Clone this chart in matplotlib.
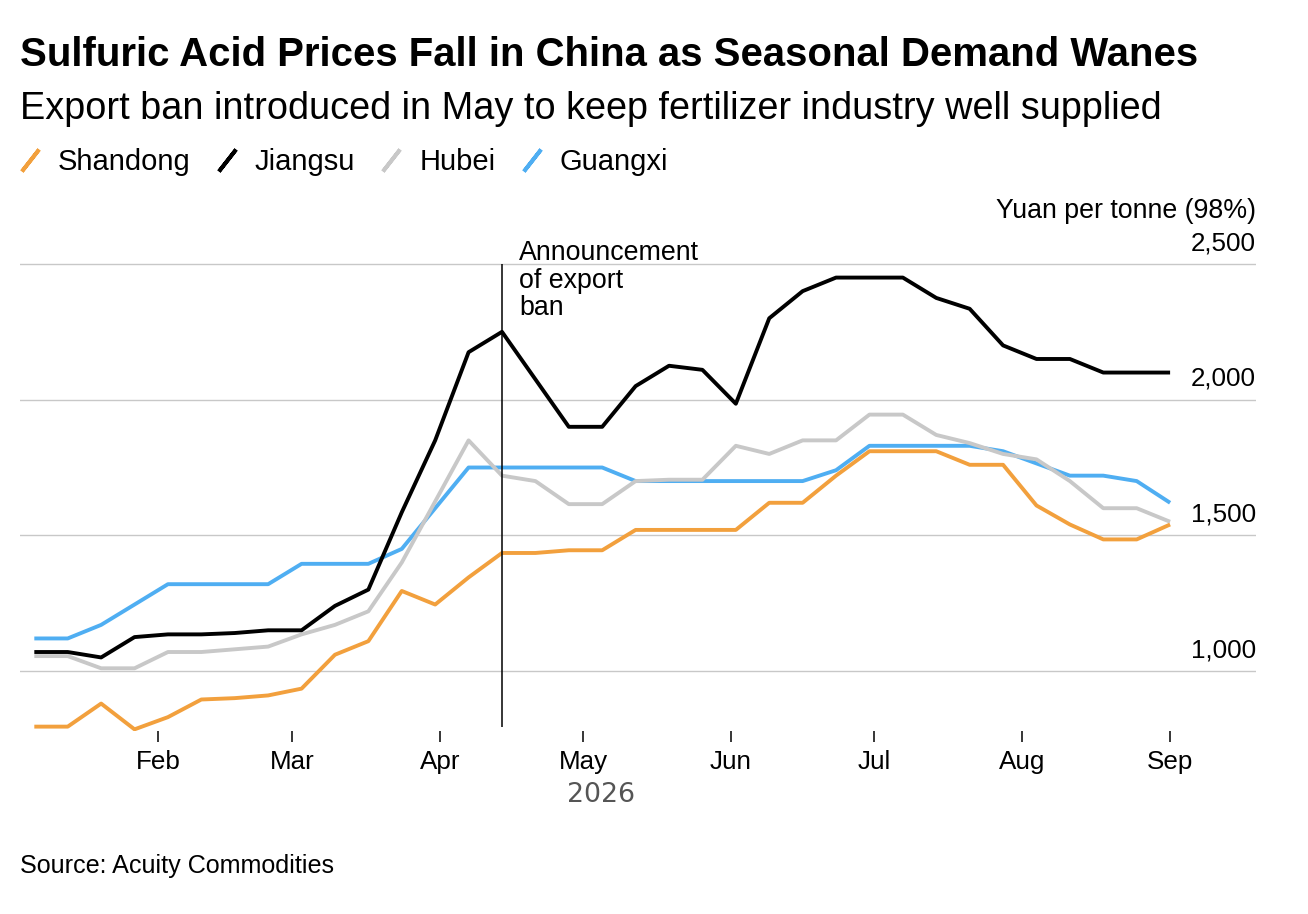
"""
Sulfuric acid prices in four Chinese provinces, weekly, 2026.
"""
import numpy as np
import pandas as pd
import matplotlib
matplotlib.use("Agg")
import matplotlib.pyplot as plt
import matplotlib.dates as mdates
from matplotlib.lines import Line2D
from matplotlib.transforms import offset_copy

plt.rcParams["font.family"] = ["Liberation Sans", "DejaVu Sans"]

# weekly assessments, Jan 6 to Sep 1 2026
dates = pd.date_range("2026-01-06", periods=35, freq="7D")

shandong = [795, 795, 880, 785, 830, 895, 900, 910, 935, 1060, 1110, 1295,
            1245, 1345, 1435, 1435, 1445, 1445, 1520, 1520, 1520, 1520, 1620,
            1620, 1720, 1810, 1810, 1810, 1760, 1760, 1610, 1540, 1485, 1485,
            1540]
jiangsu = [1070, 1070, 1050, 1125, 1135, 1135, 1140, 1150, 1150, 1240, 1300,
           1585, 1850, 2175, 2250, 2075, 1900, 1900, 2050, 2125, 2110, 1985,
           2300, 2400, 2450, 2450, 2450, 2375, 2335, 2200, 2150, 2150, 2100,
           2100, 2100]
hubei = [1055, 1055, 1010, 1010, 1070, 1070, 1080, 1090, 1135, 1170, 1220,
         1400, 1625, 1850, 1720, 1700, 1615, 1615, 1700, 1705, 1705, 1830,
         1800, 1850, 1850, 1945, 1945, 1870, 1840, 1800, 1780, 1700, 1600,
         1600, 1550]
guangxi = [1120, 1120, 1170, 1245, 1320, 1320, 1320, 1320, 1395, 1395, 1395,
           1450, 1600, 1750, 1750, 1750, 1750, 1750, 1700, 1700, 1700, 1700,
           1700, 1700, 1740, 1830, 1830, 1830, 1830, 1810, 1765, 1720, 1720,
           1700, 1620]

# (label, values, color) in legend order; drawn in reverse so Shandong sits on top
SERIES = [
    ("Shandong", shandong, "#F2A03D"),
    ("Jiangsu", jiangsu, "#000000"),
    ("Hubei", hubei, "#C8C8C8"),
    ("Guangxi", guangxi, "#4FAEF2"),
]

y_ticks = [1000, 1500, 2000, 2500]
ban_date = pd.Timestamp("2026-04-14")
ban_label = "Announcement\nof export\nban"

W, H = 1308, 914


def fx(x):
    return x / W


def fy(y):
    return 1 - y / H


fig = plt.figure(figsize=(W / 100, H / 100), dpi=100)
ax = fig.add_axes([fx(20), fy(730.7), fx(1256) - fx(20), fy(261.3) - fy(730.7)])

for label, values, color in reversed(SERIES):
    ax.plot(dates, values, color=color, linewidth=2.8,
            solid_joinstyle="round", solid_capstyle="butt", label=label)

ax.set_xlim(dates[0] - pd.Timedelta(days=3), dates[-1] + pd.Timedelta(days=18))
ax.set_ylim(780, 2510)

# announcement marker
ax.vlines(ban_date, 795, 2500, color="black", linewidth=1.1, zorder=5)
ax.annotate(ban_label, xy=(ban_date, 2500), xytext=(17, 24),
            textcoords="offset pixels", ha="left", va="top",
            fontsize=19.3, linespacing=1.08, annotation_clip=False)

# y gridlines with labels sitting above them at the right edge
ax.set_yticks(y_ticks)
ax.grid(axis="y", color="#C8C8C8", linewidth=1.0)
ax.set_axisbelow(True)
ax.tick_params(axis="y", length=0, labelleft=False)
lab_tr = offset_copy(ax.get_yaxis_transform(), fig=fig, y=10, units="points")
for v in y_ticks:
    ax.text(1.0, v, f"{v:,}", transform=lab_tr, ha="right", va="baseline",
            fontsize=18.7)
unit_tr = offset_copy(ax.get_yaxis_transform(), fig=fig, y=33, units="points")
ax.text(1.0, y_ticks[-1], "Yuan per tonne (98%)", transform=unit_tr,
        ha="right", va="baseline", fontsize=19.3)

# month ticks
ax.xaxis.set_major_locator(mdates.MonthLocator(bymonth=range(2, 10)))
ax.xaxis.set_major_formatter(mdates.DateFormatter("%b"))
ax.tick_params(axis="x", direction="out", length=8, width=1.1, pad=6,
               labelsize=18.7, colors="black")
for side in ["top", "right", "left", "bottom"]:
    ax.spines[side].set_visible(False)

fig.text(fx(601), fy(802), "2026", ha="center", va="baseline", fontsize=19.3,
         color="#555555", family="DejaVu Sans")

# headline block
fig.text(fx(20), fy(66), "Sulfuric Acid Prices Fall in China as Seasonal Demand Wanes",
         fontsize=28.9, fontweight="bold", ha="left", va="baseline")
fig.text(fx(20), fy(119),
         "Export ban introduced in May to keep fertilizer industry well supplied",
         fontsize=27.3, ha="left", va="baseline")

handles = [Line2D([], [], linestyle="none", marker=(2, 2, -38), markersize=20,
                  markeredgewidth=2.8, markeredgecolor=color, color=color)
           for _, _, color in SERIES]
fig.legend(handles, [label for label, _, _ in SERIES], loc="center left",
           bbox_to_anchor=(fx(20), fy(162)), ncol=4, frameon=False,
           fontsize=21, handlelength=0.68, handletextpad=0.62,
           columnspacing=0.9, borderpad=0, borderaxespad=0, numpoints=1)

fig.text(fx(20), fy(873), "Source: Acuity Commodities", fontsize=18.1,
         ha="left", va="baseline")

fig.savefig("out.png", dpi=100)
